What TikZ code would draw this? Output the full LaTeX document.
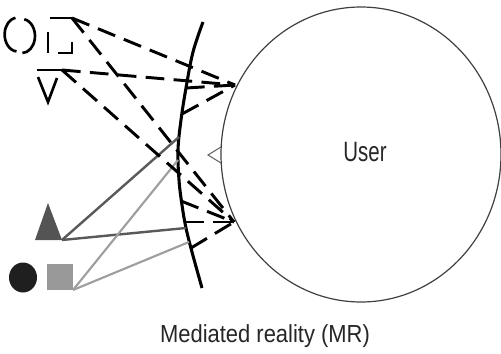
\documentclass[tikz,border=0pt]{standalone}
\usepackage{fontspec}
\newfontfamily\userfont[FakeStretch=0.73]{Liberation Sans}
\newfontfamily\capfont[FakeStretch=0.89]{Liberation Sans}
\begin{document}
\begin{tikzpicture}[x=0.75pt,y=-0.75pt,
  vline/.style={line width=2.2pt, dash pattern=on 14pt off 7pt},
  vshape/.style={line width=2pt},
  darkray/.style={line width=1.8pt, color=black!65},
  lightray/.style={line width=1.6pt, color=black!38},
  userline/.style={line width=0.9pt, color=black!75},
  mediator/.style={line width=2.3pt},
]
\useasboundingbox (0,0) rectangle (501,354);

% ---------- user ----------
\draw[userline] (361,154.5) ellipse[x radius=140, y radius=147.5];
\node[font=\userfont\fontsize{21}{24}\selectfont, text=black!85] (user) at (365,152) {User};
\draw[line width=0.8pt, color=black!60] (221,147) -- (208,155) -- (221,163);

% focal points on the user
\coordinate (A) at (235,85);
\coordinate (B) at (234,222);

% ---------- mediator ----------
\draw[mediator] plot[smooth, tension=0.6] coordinates {(203,22) (193,52) (186,88) (181,120) (178,150) (179,180) (182,205) (186,228) (192,252) (202,288)};
\coordinate (m1) at (186,88);
\coordinate (m2) at (182,114);
\coordinate (h1) at (179,137);
\coordinate (h2) at (178,160);
\coordinate (m3) at (181,201);
\coordinate (m4) at (185,222);
\coordinate (h3) at (186,228);
\coordinate (h4) at (189,242);
\coordinate (m5) at (191,248);

% ---------- virtual objects (dashed) ----------
\draw[vshape] (16.5,51.4) arc[start angle=95, end angle=260, x radius=13, y radius=17];
\draw[vshape] (22,36) ++(-80:13 and 17) arc[start angle=-80, end angle=88, x radius=13, y radius=17];
\draw[vshape] (50,18) -- (72,18);
\draw[vshape] (48,32) -- (48,53);
\draw[vshape] (58,53) -- (72,53) -- (72,42);
\draw[vshape] (37,70) -- (62,70);
\draw[vshape] (38,77) -- (48,102) -- (57,78);
\coordinate (sqc) at (72,18);
\coordinate (trc) at (62,70);

% ---------- real objects ----------
\fill[black!67] (48,203) -- (35,240) -- (62,240) -- cycle;
\fill[black!88] (23,277.5) ellipse[x radius=14, y radius=15];
\fill[black!40] (47,264) rectangle (73,290);
\coordinate (trs) at (62,240);
\coordinate (sqs) at (73,290);

% ---------- rays ----------
\draw[darkray] (trs) -- (h1);
\draw[darkray] (trs) -- (h3);
\draw[lightray] (sqs) -- (h2);
\draw[lightray] (sqs) -- (h4);

\draw[vline] (sqc) -- (A);
\draw[vline] (sqc) -- (B);
\draw[vline] (trc) -- (A);
\draw[vline] (trc) -- (B);
\draw[vline] (m1) -- (A);
\draw[vline] (m2) -- (A);
\draw[vline] (m3) -- (B);
\draw[vline] (m4) -- (B);
\draw[vline] (m5) -- (B);

% ---------- caption ----------
\node[font=\capfont\fontsize{18.5}{22}\selectfont, text=black!85] (cap) at (265,336) {Mediated reality (MR)};
\end{tikzpicture}
\end{document}
